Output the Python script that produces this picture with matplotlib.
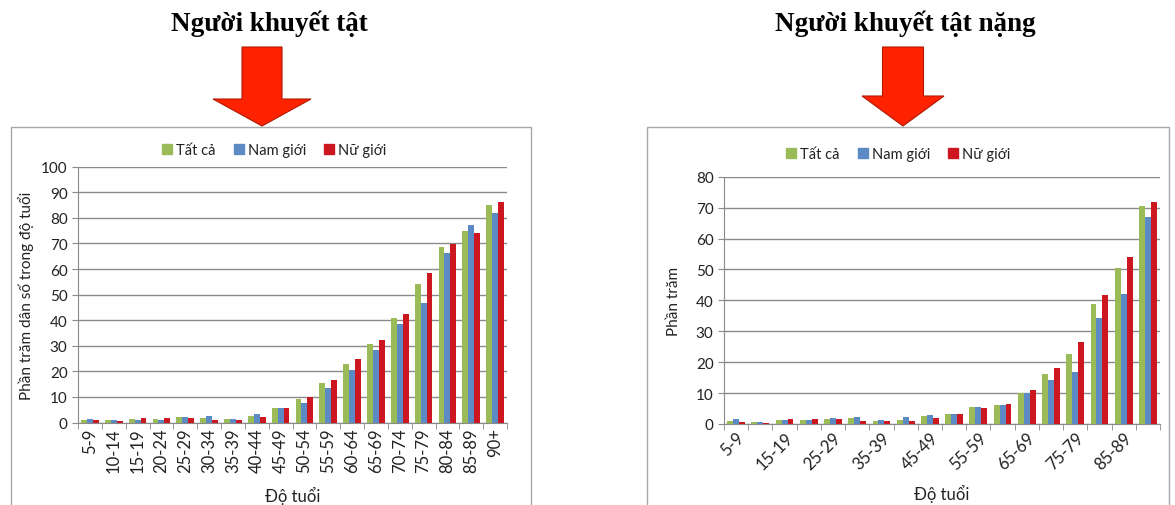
import numpy as np
import matplotlib
matplotlib.use("Agg")
import matplotlib.pyplot as plt
from matplotlib.patches import Polygon, Rectangle
from matplotlib.lines import Line2D

plt.rcParams['font.family'] = ['Lato', 'DejaVu Sans']

age_groups = ['5-9', '10-14', '15-19', '20-24', '25-29', '30-34', '35-39', '40-44',
              '45-49', '50-54', '55-59', '60-64', '65-69', '70-74', '75-79', '80-84',
              '85-89', '90+']
series_names = ['Tất cả', 'Nam giới', 'Nữ giới']

# ty le nguoi khuyet tat (%)
all_pct = [1.1, 1.0, 1.2, 1.2, 2.0, 1.6, 1.5, 2.6, 5.7, 9.1, 15.5, 22.8, 30.6, 40.8, 54.0, 68.7, 75.0, 85.2]
male_pct = [1.3, 1.0, 1.0, 1.1, 2.1, 2.7, 1.5, 3.2, 5.7, 7.7, 13.5, 20.4, 28.5, 38.6, 46.7, 66.4, 77.3, 81.9]
female_pct = [0.9, 0.6, 1.6, 1.6, 1.7, 1.1, 1.1, 2.2, 5.6, 10.0, 16.8, 24.8, 32.4, 42.5, 58.5, 69.8, 74.0, 86.2]

# ty le nguoi khuyet tat nang (%)
severe_all = [0.9, 0.7, 1.4, 1.3, 1.7, 2.0, 1.1, 1.4, 2.6, 3.1, 5.4, 6.1, 10.0, 16.3, 22.5, 38.9, 50.5, 70.4]
severe_male = [1.6, 0.6, 1.2, 1.2, 1.9, 2.2, 1.4, 2.3, 2.8, 3.1, 5.6, 6.1, 10.1, 14.1, 16.8, 34.4, 42.2, 66.9]
severe_female = [0.6, 0.4, 1.7, 1.7, 1.5, 0.9, 1.0, 0.9, 1.8, 3.1, 5.3, 6.6, 11.1, 18.2, 26.6, 41.6, 54.1, 71.8]

colors = ['#9bbb59', '#5b8ac4', '#cc1620']
grid_col = '#8a8a8a'
txt_col = '#222222'
W, H = 1175, 506

fig = plt.figure(figsize=(W / 100, H / 100), dpi=100)
fig.patch.set_facecolor('white')

# nen: khung, tieu de, mui ten (toa do pixel)
bg = fig.add_axes([0, 0, 1, 1])
bg.set_xlim(0, W)
bg.set_ylim(H, 0)
bg.axis('off')

for x0, x1 in [(11, 531), (647, 1169)]:
    bg.add_patch(Rectangle((x0, 128), x1 - x0, 400, facecolor='white',
                           edgecolor='#a8a8a8', lw=1.0))

bg.text(269, 24, 'Người khuyết tật', fontsize=19.5, fontweight='bold',
        family='Liberation Serif', ha='center', va='center')
bg.text(905, 24, 'Người khuyết tật nặng', fontsize=19.5, fontweight='bold',
        family='Liberation Serif', ha='center', va='center')


def arrow(cx, shaft_w, head_w, top, neck, tip):
    pts = [(cx - shaft_w / 2, top), (cx + shaft_w / 2, top), (cx + shaft_w / 2, neck),
           (cx + head_w / 2, neck), (cx, tip), (cx - head_w / 2, neck),
           (cx - shaft_w / 2, neck)]
    bg.add_patch(Polygon(pts, closed=True, facecolor='#ff2200',
                         edgecolor='#b01800', lw=0.8, zorder=5))


arrow(262, 40, 98, 48, 100, 127)
arrow(903, 41, 82, 48, 97, 127)


def px_axes(x0, x1, ytop, ybot):
    return fig.add_axes([x0 / W, 1 - ybot / H, (x1 - x0) / W, (ybot - ytop) / H])


def draw_chart(ax, vals, ymax, ystep):
    x = np.arange(len(age_groups))
    w = 0.245
    for i, (v, c) in enumerate(zip(vals, colors)):
        ax.bar(x + (i - 1) * w, v, width=w, color=c, zorder=3, label=series_names[i])
    ax.set_xlim(-0.5, len(age_groups) - 0.5)
    ax.set_ylim(0, ymax)
    ax.set_yticks(np.arange(0, ymax + 1, ystep))
    ax.yaxis.grid(True, color=grid_col, lw=1.0, zorder=0)
    ax.set_facecolor('none')
    for s in ['top', 'right']:
        ax.spines[s].set_visible(False)
    for s in ['left', 'bottom']:
        ax.spines[s].set_color(grid_col)
    ax.set_xticks(np.arange(-0.5, len(age_groups)), minor=True)
    ax.tick_params(axis='x', which='minor', length=4, color=grid_col, direction='out')
    ax.tick_params(axis='x', which='major', length=0, labelsize=12, colors=txt_col)
    ax.tick_params(axis='y', length=4, color=grid_col, labelsize=11, labelcolor=txt_col)


# bieu do trai
ax1 = px_axes(78, 507, 167.7, 423.5)
draw_chart(ax1, [all_pct, male_pct, female_pct], 100, 10)
ax1.set_xticks(np.arange(len(age_groups)))
ax1.set_xticklabels(age_groups, rotation=90)
ax1.set_ylabel('Phần trăm dân số trong độ tuổi', fontsize=11, color=txt_col, labelpad=5)
ax1.set_xlabel('Độ tuổi', fontsize=12, color=txt_col, labelpad=10)

# bieu do phai
ax2 = px_axes(724, 1160, 177.7, 425)
draw_chart(ax2, [severe_all, severe_male, severe_female], 80, 10)
ax2.set_xticks(np.arange(0, len(age_groups), 2))
ax2.set_xticklabels(age_groups[::2], rotation=45, ha='right', rotation_mode='anchor')
ax2.set_ylabel('Phần trăm', fontsize=11, color=txt_col, labelpad=11)
ax2.set_xlabel('Độ tuổi', fontsize=12, color=txt_col, labelpad=9)

handles = [Line2D([], [], marker='s', ls='none', color=c, markersize=6.5) for c in colors]
for ax, cx, cy in [(ax1, 274, 151), (ax2, 898, 155)]:
    ax.legend(handles, series_names, loc='center', ncol=3, frameon=False,
              bbox_to_anchor=(cx / W, 1 - cy / H), bbox_transform=fig.transFigure,
              fontsize=10.5, handlelength=0.8, handletextpad=0.2, columnspacing=1.2,
              labelcolor=txt_col)

fig.savefig('out.png', dpi=100)
